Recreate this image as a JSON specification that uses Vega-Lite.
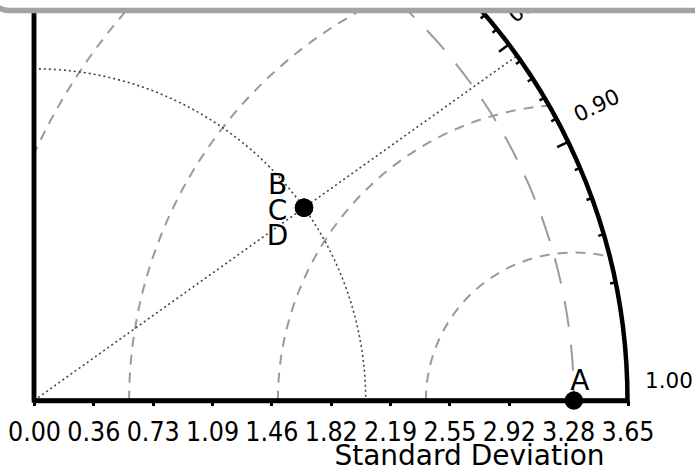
{
  "$schema": "https://vega.github.io/schema/vega-lite/v6.json",
  "width": 593.5,
  "height": 400.5,
  "autosize": {"type": "none"},
  "padding": {"left": 34, "top": 0, "right": 67.5, "bottom": 69.5},
  "background": "white",
  "config": {"view": {"stroke": null}, "font": "DejaVu Sans", "axisY": {"disable": true}},
  "datasets": {
    "models": [
      {"name": "A", "std": 3.32, "corr": 1.0},
      {"name": "B", "std": 2.04, "corr": 0.814},
      {"name": "C", "std": 2.04, "corr": 0.814},
      {"name": "D", "std": 2.04, "corr": 0.814}
    ],
    "rmsd": [
      {"rms": 0.91, "ref": 3.32},
      {"rms": 1.82, "ref": 3.32},
      {"rms": 2.735, "ref": 3.32},
      {"rms": 3.65, "ref": 3.32}
    ],
    "frame": [{"smax": 3.65}],
    "corrTicks": [
      {"c": 0.7, "kind": "major"},
      {"c": 0.72, "kind": "minor"},
      {"c": 0.74, "kind": "minor"},
      {"c": 0.76, "kind": "minor"},
      {"c": 0.78, "kind": "minor"},
      {"c": 0.8, "kind": "major"},
      {"c": 0.82, "kind": "minor"},
      {"c": 0.84, "kind": "minor"},
      {"c": 0.86, "kind": "minor"},
      {"c": 0.88, "kind": "minor"},
      {"c": 0.9, "kind": "major"},
      {"c": 0.92, "kind": "minor"},
      {"c": 0.94, "kind": "minor"},
      {"c": 0.96, "kind": "minor"},
      {"c": 0.98, "kind": "minor"},
      {"c": 1.0, "kind": "major"}
    ],
    "corrLabels": [{"c": 0.8}, {"c": 0.9}, {"c": 1.0}]
  },
  "layer": [
    {
      "data": {"name": "rmsd"},
      "transform": [{"calculate": "0", "as": "cy"}],
      "mark": {"type": "arc", "filled": false, "stroke": "#9a9a9a", "strokeWidth": 2, "strokeDash": [10, 8], "theta": -1.5707963, "theta2": 1.5707963, "clip": true},
      "encoding": {
        "x": {
          "field": "ref", "type": "quantitative", "stack": null,
          "scale": {"domain": [0, 3.65], "nice": false, "zero": false},
          "axis": {
            "values": [0, 0.365, 0.73, 1.095, 1.46, 1.825, 2.19, 2.555, 2.92, 3.285, 3.65],
            "labelExpr": "format(floor(datum.value * 100 + 0.000001) / 100, '.2f')",
            "grid": false,
            "zindex": 1,
            "domainColor": "black", "domainWidth": 4.5,
            "tickColor": "black", "tickWidth": 3, "tickSize": 5,
            "labelFont": "DejaVu Sans Condensed", "labelFontSize": 26.5, "labelColor": "black",
            "labelPadding": 14, "labelFlush": false, "labelOverlap": false,
            "title": "Standard Deviation",
            "titleFont": "DejaVu Sans", "titleFontSize": 28, "titleFontWeight": "normal", "titleColor": "black",
            "titleX": 435, "titleY": 64, "titleAlign": "center", "titleBaseline": "alphabetic"
          }
        },
        "y": {"field": "cy", "type": "quantitative", "stack": null, "scale": {"domain": [0, 2.4631], "nice": false, "zero": false}},
        "radius": {"field": "rms", "type": "quantitative", "stack": null, "scale": {"type": "linear", "domain": [0, 3.65], "range": [0, 593.5], "zero": true, "nice": false}}
      }
    },
    {
      "data": {"name": "models"},
      "transform": [{"filter": "datum.name === 'A'"}, {"calculate": "0", "as": "cx"}, {"calculate": "0", "as": "cy"}],
      "mark": {"type": "arc", "filled": false, "stroke": "#9a9a9a", "strokeWidth": 2, "strokeDash": [26, 18], "theta": 0, "theta2": 1.5707963, "clip": true},
      "encoding": {
        "x": {"field": "cx", "type": "quantitative", "stack": null},
        "y": {"field": "cy", "type": "quantitative", "stack": null},
        "radius": {"field": "std", "type": "quantitative", "stack": null}
      }
    },
    {
      "data": {"name": "models"},
      "transform": [{"filter": "datum.name === 'C'"}, {"calculate": "0", "as": "cx"}, {"calculate": "0", "as": "cy"}],
      "mark": {"type": "arc", "filled": false, "stroke": "#444444", "strokeWidth": 1.6, "strokeDash": [2, 3], "theta": 0, "theta2": 1.5707963, "clip": true},
      "encoding": {
        "x": {"field": "cx", "type": "quantitative", "stack": null},
        "y": {"field": "cy", "type": "quantitative", "stack": null},
        "radius": {"field": "std", "type": "quantitative", "stack": null}
      }
    },
    {
      "data": {"name": "models"},
      "transform": [
        {"filter": "datum.name === 'C'"},
        {"calculate": "0", "as": "cx"},
        {"calculate": "0", "as": "cy"},
        {"calculate": "3.65 * datum.corr", "as": "ex"},
        {"calculate": "3.65 * sqrt(1 - datum.corr * datum.corr)", "as": "ey"}
      ],
      "mark": {"type": "rule", "stroke": "#444444", "strokeWidth": 1.6, "strokeDash": [2, 3]},
      "encoding": {
        "x": {"field": "cx", "type": "quantitative"},
        "y": {"field": "cy", "type": "quantitative"},
        "x2": {"field": "ex"},
        "y2": {"field": "ey"}
      }
    },
    {
      "data": {"name": "frame"},
      "transform": [{"calculate": "0", "as": "cx"}, {"calculate": "0", "as": "cy"}, {"calculate": "datum.smax * 8", "as": "far"}],
      "mark": {"type": "arc", "fill": "white", "strokeWidth": 0, "theta": 0, "theta2": 1.5707963, "clip": true},
      "encoding": {
        "x": {"field": "cx", "type": "quantitative", "stack": null},
        "y": {"field": "cy", "type": "quantitative", "stack": null},
        "radius": {"field": "smax", "type": "quantitative", "stack": null},
        "radius2": {"field": "far"}
      }
    },
    {
      "data": {"name": "frame"},
      "transform": [{"calculate": "0", "as": "cx"}, {"calculate": "0", "as": "cy"}],
      "mark": {"type": "arc", "filled": false, "stroke": "black", "strokeWidth": 4.5, "theta": 0, "theta2": 1.5707963, "clip": false},
      "encoding": {
        "x": {"field": "cx", "type": "quantitative", "stack": null},
        "y": {"field": "cy", "type": "quantitative", "stack": null},
        "radius": {"field": "smax", "type": "quantitative", "stack": null}
      }
    },
    {
      "data": {"name": "corrTicks"},
      "transform": [
        {"calculate": "sqrt(1 - datum.c * datum.c)", "as": "s"},
        {"calculate": "datum.kind === 'major' ? 3.575 : 3.615", "as": "rin"},
        {"calculate": "3.65 * datum.c", "as": "ox"},
        {"calculate": "3.65 * datum.s", "as": "oy"},
        {"calculate": "datum.rin * datum.c", "as": "ix"},
        {"calculate": "datum.rin * datum.s", "as": "iy"}
      ],
      "mark": {"type": "rule", "stroke": "black", "strokeWidth": 2.5},
      "encoding": {
        "x": {"field": "ox", "type": "quantitative"},
        "y": {"field": "oy", "type": "quantitative"},
        "x2": {"field": "ix"},
        "y2": {"field": "iy"}
      }
    },
    {
      "data": {"name": "corrLabels"},
      "transform": [
        {"calculate": "3.65 * datum.c", "as": "lx"},
        {"calculate": "3.65 * sqrt(1 - datum.c * datum.c)", "as": "ly"},
        {"calculate": "-acos(datum.c) * 180 / PI", "as": "rot"}
      ],
      "mark": {"type": "text", "align": "left", "baseline": "alphabetic", "dx": 17.5, "dy": -13, "fontSize": 21.5, "font": "DejaVu Sans", "color": "black", "clip": false},
      "encoding": {
        "x": {"field": "lx", "type": "quantitative"},
        "y": {"field": "ly", "type": "quantitative"},
        "angle": {"field": "rot", "type": "quantitative", "scale": {"type": "linear", "domain": [-90, 0], "range": [-90, 0]}, "legend": null},
        "text": {"field": "c", "type": "quantitative", "format": ".2f"}
      }
    },
    {
      "data": {"name": "frame"},
      "transform": [{"calculate": "0", "as": "cx"}, {"calculate": "0", "as": "cy"}],
      "mark": {"type": "rule", "stroke": "black", "strokeWidth": 4.5},
      "encoding": {
        "x": {"field": "cx", "type": "quantitative"},
        "y": {"field": "cy", "type": "quantitative"},
        "y2": {"field": "smax"}
      }
    },
    {
      "data": {"name": "models"},
      "transform": [
        {"calculate": "datum.std * datum.corr", "as": "px"},
        {"calculate": "datum.std * sqrt(1 - datum.corr * datum.corr)", "as": "py"}
      ],
      "mark": {"type": "circle", "color": "black", "opacity": 1, "size": 340},
      "encoding": {
        "x": {"field": "px", "type": "quantitative"},
        "y": {"field": "py", "type": "quantitative"}
      }
    },
    {
      "data": {"name": "models"},
      "transform": [
        {"filter": "datum.name === 'A'"},
        {"calculate": "datum.std * datum.corr", "as": "px"},
        {"calculate": "datum.std * sqrt(1 - datum.corr * datum.corr)", "as": "py"}
      ],
      "mark": {"type": "text", "align": "center", "baseline": "alphabetic", "fontSize": 28, "font": "DejaVu Sans", "color": "black", "dx": 6, "dy": -10.5},
      "encoding": {
        "x": {"field": "px", "type": "quantitative"},
        "y": {"field": "py", "type": "quantitative"},
        "text": {"field": "name", "type": "nominal"}
      }
    },
    {
      "data": {"name": "models"},
      "transform": [
        {"filter": "datum.name === 'B'"},
        {"calculate": "datum.std * datum.corr", "as": "px"},
        {"calculate": "datum.std * sqrt(1 - datum.corr * datum.corr)", "as": "py"}
      ],
      "mark": {"type": "text", "align": "center", "baseline": "alphabetic", "fontSize": 28, "font": "DejaVu Sans", "color": "black", "dx": -26.5, "dy": -14},
      "encoding": {
        "x": {"field": "px", "type": "quantitative"},
        "y": {"field": "py", "type": "quantitative"},
        "text": {"field": "name", "type": "nominal"}
      }
    },
    {
      "data": {"name": "models"},
      "transform": [
        {"filter": "datum.name === 'C'"},
        {"calculate": "datum.std * datum.corr", "as": "px"},
        {"calculate": "datum.std * sqrt(1 - datum.corr * datum.corr)", "as": "py"}
      ],
      "mark": {"type": "text", "align": "center", "baseline": "alphabetic", "fontSize": 28, "font": "DejaVu Sans", "color": "black", "dx": -26.5, "dy": 12.5},
      "encoding": {
        "x": {"field": "px", "type": "quantitative"},
        "y": {"field": "py", "type": "quantitative"},
        "text": {"field": "name", "type": "nominal"}
      }
    },
    {
      "data": {"name": "models"},
      "transform": [
        {"filter": "datum.name === 'D'"},
        {"calculate": "datum.std * datum.corr", "as": "px"},
        {"calculate": "datum.std * sqrt(1 - datum.corr * datum.corr)", "as": "py"}
      ],
      "mark": {"type": "text", "align": "center", "baseline": "alphabetic", "fontSize": 28, "font": "DejaVu Sans", "color": "black", "dx": -26.5, "dy": 37.5},
      "encoding": {
        "x": {"field": "px", "type": "quantitative"},
        "y": {"field": "py", "type": "quantitative"},
        "text": {"field": "name", "type": "nominal"}
      }
    },
    {
      "data": {"name": "frame"},
      "transform": [
        {"calculate": "-0.277", "as": "fx0"},
        {"calculate": "4.5", "as": "fx1"},
        {"calculate": "2.3985", "as": "fy0"},
        {"calculate": "3.5", "as": "fy1"}
      ],
      "mark": {"type": "rect", "fill": "white", "stroke": "#a3a3a3", "strokeWidth": 5.5, "cornerRadius": 20, "clip": false},
      "encoding": {
        "x": {"field": "fx0", "type": "quantitative"},
        "x2": {"field": "fx1"},
        "y": {"field": "fy0", "type": "quantitative"},
        "y2": {"field": "fy1"}
      }
    }
  ]
}
